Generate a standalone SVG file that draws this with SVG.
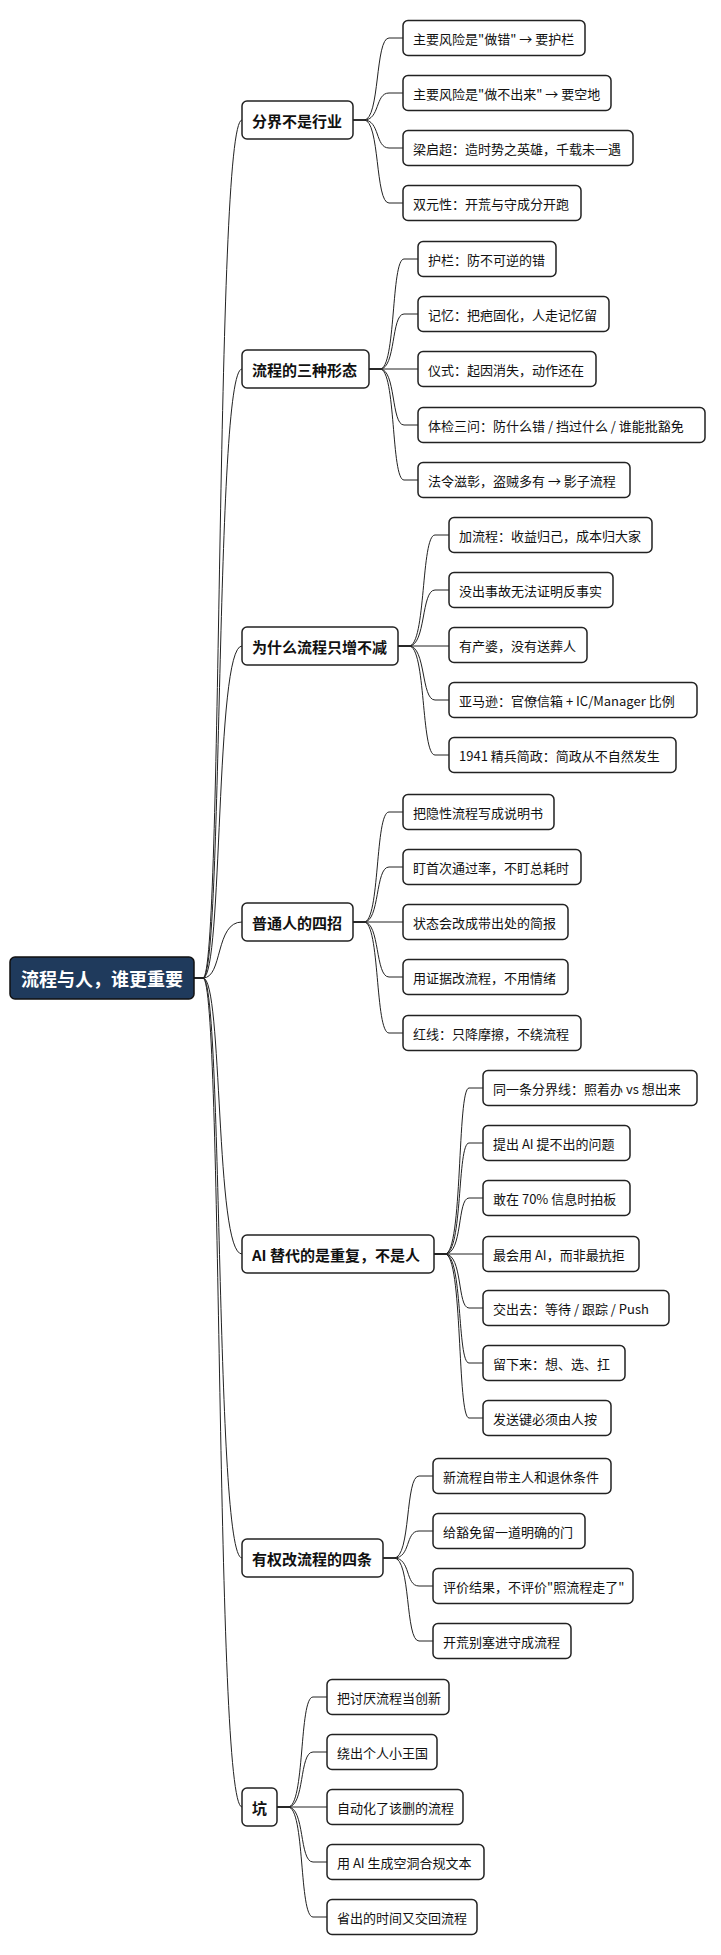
<svg xmlns="http://www.w3.org/2000/svg" width="721" height="1955" viewBox="0 0 721 1955">
<style>
.n rect{fill:#fff;stroke:#222;stroke-width:1.5}
.n text{font-family:"Noto Sans CJK SC","Liberation Sans",sans-serif;font-size:13px;fill:#111;dominant-baseline:central}
.l1 text{font-size:15px;font-weight:bold}
.root rect{fill:#1f3a5c;stroke:#111}
.root text{font-size:18px;font-weight:bold;fill:#fff;text-anchor:middle}
#edges path{fill:none;stroke:#222;stroke-width:1}
</style>
<rect width="721" height="1955" fill="#fff"/>
<g id="edges" transform="translate(-3,0)">
<path d="M197,978 H206 C226,978 218,120 245,120"/>
<path d="M197,978 H206 C226,978 218,369 245,369"/>
<path d="M197,978 H206 C226,978 218,646 245,646"/>
<path d="M197,978 H206 C226,978 218,922 245,922"/>
<path d="M197,978 H206 C226,978 218,1254 245,1254"/>
<path d="M197,978 H206 C226,978 218,1558 245,1558"/>
<path d="M197,978 H206 C226,978 218,1807 245,1807"/>
<path d="M356,120 H367 C383,120 378,38 392,38 H406"/>
<path d="M356,120 H367 C383,120 378,93 392,93 H406"/>
<path d="M356,120 H367 C383,120 378,148 392,148 H406"/>
<path d="M356,120 H367 C383,120 378,203 392,203 H406"/>
<path d="M372,369 H383 C399,369 394,259 407,259 H421"/>
<path d="M372,369 H383 C399,369 394,314 407,314 H421"/>
<path d="M372,369 H421"/>
<path d="M372,369 H383 C399,369 394,425 407,425 H421"/>
<path d="M372,369 H383 C399,369 394,480 407,480 H421"/>
<path d="M401,646 H412 C429,646 424,535 438,535 H452"/>
<path d="M401,646 H412 C429,646 424,590 438,590 H452"/>
<path d="M401,646 H452"/>
<path d="M401,646 H412 C429,646 424,700 438,700 H452"/>
<path d="M401,646 H412 C429,646 424,755 438,755 H452"/>
<path d="M356,922 H367 C383,922 378,812 392,812 H406"/>
<path d="M356,922 H367 C383,922 378,867 392,867 H406"/>
<path d="M356,922 H406"/>
<path d="M356,922 H367 C383,922 378,977 392,977 H406"/>
<path d="M356,922 H367 C383,922 378,1033 392,1033 H406"/>
<path d="M437,1254 H448 C466,1254 460,1088 472,1088 H486"/>
<path d="M437,1254 H448 C466,1254 460,1143 472,1143 H486"/>
<path d="M437,1254 H448 C466,1254 460,1198 472,1198 H486"/>
<path d="M437,1254 H486"/>
<path d="M437,1254 H448 C466,1254 460,1308 472,1308 H486"/>
<path d="M437,1254 H448 C466,1254 460,1363 472,1363 H486"/>
<path d="M437,1254 H448 C466,1254 460,1418 472,1418 H486"/>
<path d="M386,1558 H397 C414,1558 408,1476 422,1476 H436"/>
<path d="M386,1558 H397 C414,1558 408,1531 422,1531 H436"/>
<path d="M386,1558 H397 C414,1558 408,1586 422,1586 H436"/>
<path d="M386,1558 H397 C414,1558 408,1641 422,1641 H436"/>
<path d="M280,1807 H291 C308,1807 302,1697 316,1697 H330"/>
<path d="M280,1807 H291 C308,1807 302,1752 316,1752 H330"/>
<path d="M280,1807 H330"/>
<path d="M280,1807 H291 C308,1807 302,1862 316,1862 H330"/>
<path d="M280,1807 H291 C308,1807 302,1917 316,1917 H330"/>
</g>
<g id="root" class="n root"><rect x="10" y="957" width="184" height="42" rx="5"/><text x="102" y="978">流程与人，谁更重要</text></g>
<g transform="translate(-3,0)">
<g id="b1" class="n l1"><rect x="245" y="101" width="111" height="38" rx="5"/><text x="255" y="120">分界不是行业</text></g>
<g id="b2" class="n l1"><rect x="245" y="350" width="127" height="38" rx="5"/><text x="255" y="369">流程的三种形态</text></g>
<g id="b3" class="n l1"><rect x="245" y="627" width="156" height="38" rx="5"/><text x="255" y="646">为什么流程只增不减</text></g>
<g id="b4" class="n l1"><rect x="245" y="903" width="111" height="38" rx="5"/><text x="255" y="922">普通人的四招</text></g>
<g id="b5" class="n l1"><rect x="245" y="1235" width="192" height="38" rx="5"/><text x="255" y="1254">AI 替代的是重复，不是人</text></g>
<g id="b6" class="n l1"><rect x="245" y="1539" width="141" height="38" rx="5"/><text x="255" y="1558">有权改流程的四条</text></g>
<g id="b7" class="n l1"><rect x="245" y="1788" width="35" height="38" rx="5"/><text x="255" y="1807">坑</text></g>
</g>
<g transform="translate(-4,0)">
<g id="c1a" class="n"><rect x="407" y="20.5" width="182" height="35" rx="5"/><text x="417" y="38">主要风险是"做错" → 要护栏</text></g>
<g id="c1b" class="n"><rect x="407" y="75.5" width="208" height="35" rx="5"/><text x="417" y="93">主要风险是"做不出来" → 要空地</text></g>
<g id="c1c" class="n"><rect x="407" y="130.5" width="230" height="35" rx="5"/><text x="417" y="148">梁启超：造时势之英雄，千载未一遇</text></g>
<g id="c1d" class="n"><rect x="407" y="185.5" width="178" height="35" rx="5"/><text x="417" y="203">双元性：开荒与守成分开跑</text></g>
<g id="c2a" class="n"><rect x="422" y="241.5" width="138" height="35" rx="5"/><text x="432" y="259">护栏：防不可逆的错</text></g>
<g id="c2b" class="n"><rect x="422" y="296.5" width="191" height="35" rx="5"/><text x="432" y="314">记忆：把疤固化，人走记忆留</text></g>
<g id="c2c" class="n"><rect x="422" y="351.5" width="178" height="35" rx="5"/><text x="432" y="369">仪式：起因消失，动作还在</text></g>
<g id="c2d" class="n"><rect x="422" y="407.5" width="287" height="35" rx="5"/><text x="432" y="425">体检三问：防什么错 / 挡过什么 / 谁能批豁免</text></g>
<g id="c2e" class="n"><rect x="422" y="462.5" width="212" height="35" rx="5"/><text x="432" y="480">法令滋彰，盗贼多有 → 影子流程</text></g>
<g id="c3a" class="n"><rect x="453" y="517.5" width="203" height="35" rx="5"/><text x="463" y="535">加流程：收益归己，成本归大家</text></g>
<g id="c3b" class="n"><rect x="453" y="572.5" width="164" height="35" rx="5"/><text x="463" y="590">没出事故无法证明反事实</text></g>
<g id="c3c" class="n"><rect x="453" y="627.5" width="138" height="35" rx="5"/><text x="463" y="645">有产婆，没有送葬人</text></g>
<g id="c3d" class="n"><rect x="453" y="682.5" width="248" height="35" rx="5"/><text x="463" y="700">亚马逊：官僚信箱 + IC/Manager 比例</text></g>
<g id="c3e" class="n"><rect x="453" y="737.5" width="227" height="35" rx="5"/><text x="463" y="755">1941 精兵简政：简政从不自然发生</text></g>
<g id="c4a" class="n"><rect x="407" y="794.5" width="151" height="35" rx="5"/><text x="417" y="812">把隐性流程写成说明书</text></g>
<g id="c4b" class="n"><rect x="407" y="849.5" width="178" height="35" rx="5"/><text x="417" y="867">盯首次通过率，不盯总耗时</text></g>
<g id="c4c" class="n"><rect x="407" y="904.5" width="165" height="35" rx="5"/><text x="417" y="922">状态会改成带出处的简报</text></g>
<g id="c4d" class="n"><rect x="407" y="959.5" width="165" height="35" rx="5"/><text x="417" y="977">用证据改流程，不用情绪</text></g>
<g id="c4e" class="n"><rect x="407" y="1015.5" width="178" height="35" rx="5"/><text x="417" y="1033">红线：只降摩擦，不绕流程</text></g>
<g id="c5a" class="n"><rect x="487" y="1070.5" width="214" height="35" rx="5"/><text x="497" y="1088">同一条分界线：照着办 vs 想出来</text></g>
<g id="c5b" class="n"><rect x="487" y="1125.5" width="147" height="35" rx="5"/><text x="497" y="1143">提出 AI 提不出的问题</text></g>
<g id="c5c" class="n"><rect x="487" y="1180.5" width="147" height="35" rx="5"/><text x="497" y="1198">敢在 70% 信息时拍板</text></g>
<g id="c5d" class="n"><rect x="487" y="1236.5" width="156" height="35" rx="5"/><text x="497" y="1254">最会用 AI，而非最抗拒</text></g>
<g id="c5e" class="n"><rect x="487" y="1290.5" width="186" height="35" rx="5"/><text x="497" y="1308">交出去：等待 / 跟踪 / Push</text></g>
<g id="c5f" class="n"><rect x="487" y="1345.5" width="142" height="35" rx="5"/><text x="497" y="1363">留下来：想、选、扛</text></g>
<g id="c5g" class="n"><rect x="487" y="1400.5" width="128" height="35" rx="5"/><text x="497" y="1418">发送键必须由人按</text></g>
<g id="c6a" class="n"><rect x="437" y="1458.5" width="178" height="35" rx="5"/><text x="447" y="1476">新流程自带主人和退休条件</text></g>
<g id="c6b" class="n"><rect x="437" y="1513.5" width="152" height="35" rx="5"/><text x="447" y="1531">给豁免留一道明确的门</text></g>
<g id="c6c" class="n"><rect x="437" y="1568.5" width="200" height="35" rx="5"/><text x="447" y="1586">评价结果，不评价"照流程走了"</text></g>
<g id="c6d" class="n"><rect x="437" y="1623.5" width="138" height="35" rx="5"/><text x="447" y="1641">开荒别塞进守成流程</text></g>
<g id="c7a" class="n"><rect x="331" y="1679.5" width="122" height="35" rx="5"/><text x="341" y="1697">把讨厌流程当创新</text></g>
<g id="c7b" class="n"><rect x="331" y="1734.5" width="110" height="35" rx="5"/><text x="341" y="1752">绕出个人小王国</text></g>
<g id="c7c" class="n"><rect x="331" y="1789.5" width="136" height="35" rx="5"/><text x="341" y="1807">自动化了该删的流程</text></g>
<g id="c7d" class="n"><rect x="331" y="1844.5" width="157" height="35" rx="5"/><text x="341" y="1862">用 AI 生成空洞合规文本</text></g>
<g id="c7e" class="n"><rect x="331" y="1899.5" width="150" height="35" rx="5"/><text x="341" y="1917">省出的时间又交回流程</text></g>
</g>
</svg>
